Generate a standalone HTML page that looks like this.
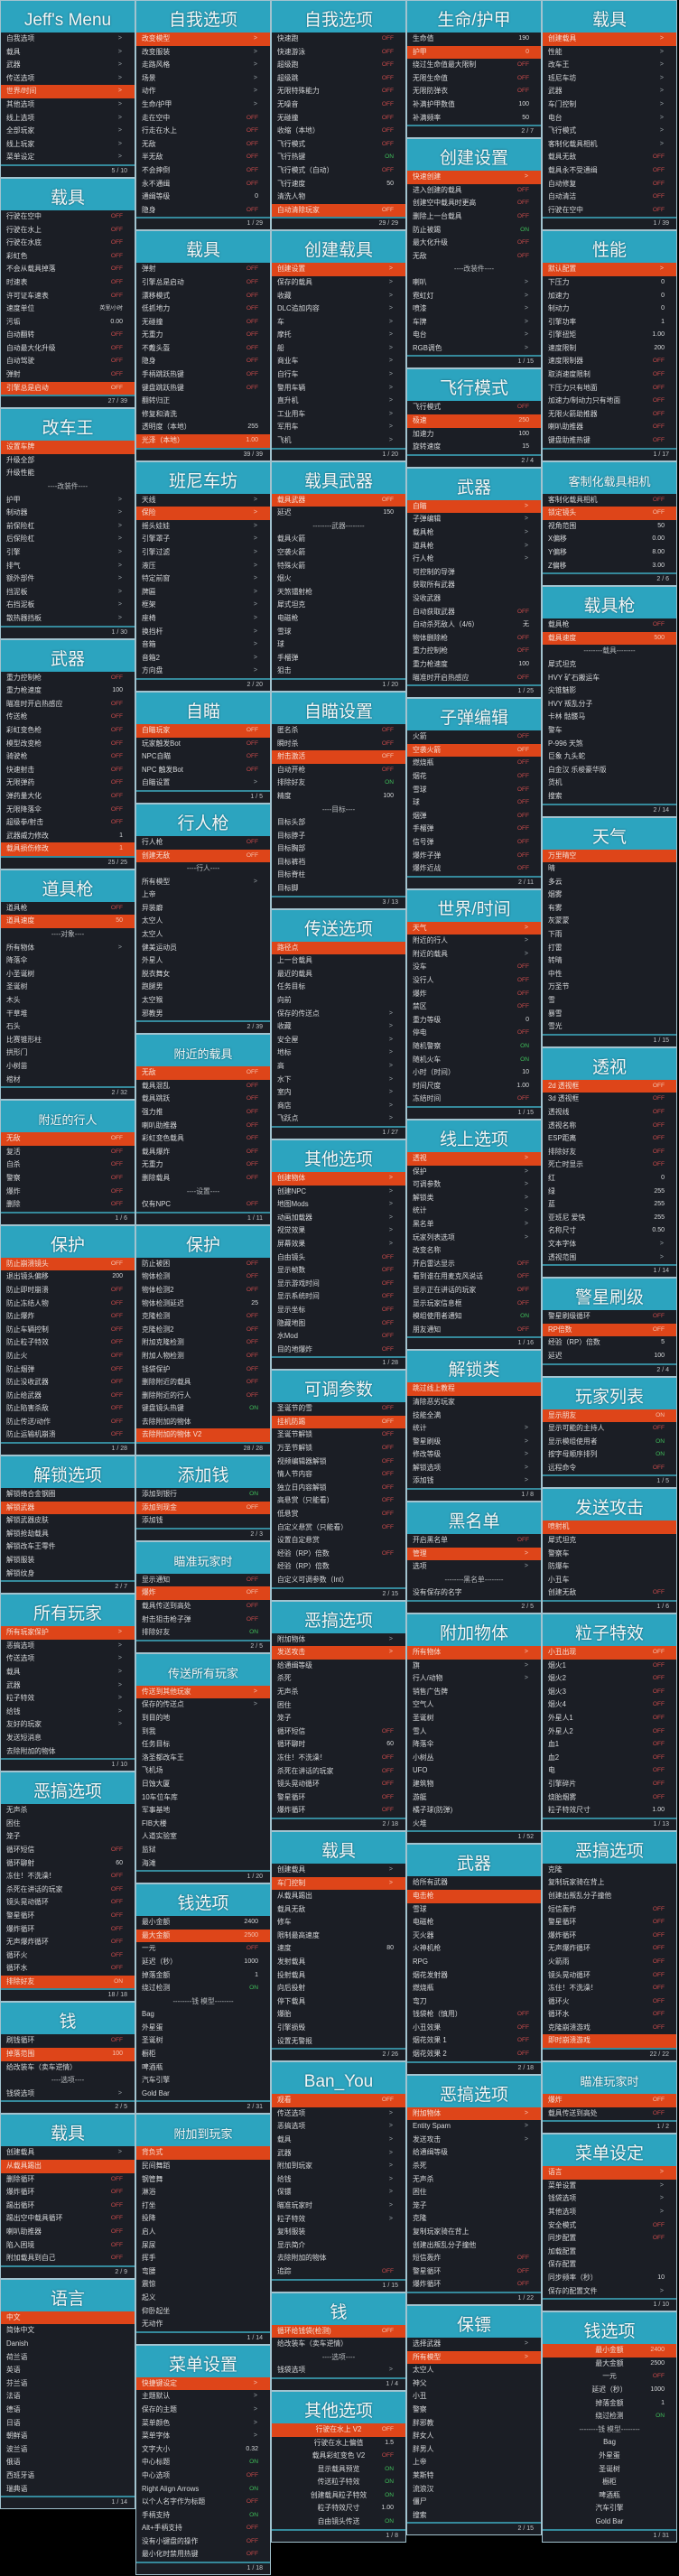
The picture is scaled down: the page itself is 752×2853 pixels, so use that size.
<!DOCTYPE html>
<html><head><meta charset="utf-8">
<style>
*{margin:0;padding:0;box-sizing:border-box}
html,body{width:752px;height:2853px;background:#000;overflow:hidden}
body{position:relative;font-family:"Liberation Sans","Noto Sans CJK SC",sans-serif}
.col{position:absolute;top:0;width:150px}
.p{border:1px solid #a2c3cf;background:#1b1e25}
.h{height:35px;background:#2ca4bf;color:#f2f6f7;font-size:19px;line-height:26px;display:flex;justify-content:center;align-items:flex-end;white-space:nowrap;text-shadow:0 0 2px rgba(0,40,50,.6)}
.h.sm{font-size:13px}
p{position:relative;height:14.6px;line-height:14.6px;font-size:7.8px;color:#d6d8da;padding-left:6px;white-space:nowrap;overflow:hidden}
p b{position:absolute;right:13px;top:0;font-weight:normal;font-size:7px;color:#d6d8da}
p b.f{color:#c94a4a;font-size:6.6px}
p b.n{color:#3fbf5a;font-size:6.6px}
p b.a{right:14px;color:#9aa3a8}
p.s{background:#de4519;color:#f6e0d6}
p.s b{color:#f5c3b0}
p.m{text-align:center;padding:0;color:#b8bcbf}
p.c{text-align:center;padding:0}
.ft{height:14px;border-top:2px solid #35899b;font-size:7px;line-height:12px;text-align:right;padding-right:8px;color:#bfc3c6}
</style></head><body>

<!-- COLUMN 1 -->
<div class="col" style="left:0">
<div class="p"><div class="h">Jeff's Menu</div>
<p>自我选项<b class="a">&gt;</b></p><p>载具<b class="a">&gt;</b></p><p>武器<b class="a">&gt;</b></p><p>传送选项<b class="a">&gt;</b></p><p class="s">世界/时间<b class="a">&gt;</b></p><p>其他选项<b class="a">&gt;</b></p><p>线上选项<b class="a">&gt;</b></p><p>全部玩家<b class="a">&gt;</b></p><p>线上玩家<b class="a">&gt;</b></p><p>菜单设定<b class="a">&gt;</b></p>
<div class="ft">5 / 10</div></div>

<div class="p"><div class="h">载具</div>
<p>行驶在空中<b class="f">OFF</b></p><p>行驶在水上<b class="f">OFF</b></p><p>行驶在水底<b class="f">OFF</b></p><p>彩虹色<b class="f">OFF</b></p><p>不会从载具掉落<b class="f">OFF</b></p><p>时速表<b class="f">OFF</b></p><p>许可证车速表<b class="f">OFF</b></p><p>速度单位<b style="font-size:6px">英里/小时</b></p><p>污垢<b>0.00</b></p><p>自动翻转<b class="f">OFF</b></p><p>自动最大化升级<b class="f">OFF</b></p><p>自动驾驶<b class="f">OFF</b></p><p>弹射<b class="f">OFF</b></p><p class="s">引擎总是启动<b class="f">OFF</b></p>
<div class="ft">27 / 39</div></div>

<div class="p"><div class="h">改车王</div>
<p class="s">设置车牌</p><p>升级全部</p><p>升级性能</p><p class="m">----改装件----</p><p>护甲<b class="a">&gt;</b></p><p>制动器<b class="a">&gt;</b></p><p>前保险杠<b class="a">&gt;</b></p><p>后保险杠<b class="a">&gt;</b></p><p>引擎<b class="a">&gt;</b></p><p>排气<b class="a">&gt;</b></p><p>额外部件<b class="a">&gt;</b></p><p>挡泥板<b class="a">&gt;</b></p><p>右挡泥板<b class="a">&gt;</b></p><p>散热器挡板<b class="a">&gt;</b></p>
<div class="ft">1 / 30</div></div>

<div class="p"><div class="h">武器</div>
<p>重力控制枪<b class="f">OFF</b></p><p>重力枪速度<b>100</b></p><p>瞄准时开启热感应<b class="f">OFF</b></p><p>传送枪<b class="f">OFF</b></p><p>彩虹变色枪<b class="f">OFF</b></p><p>模型改变枪<b class="f">OFF</b></p><p>骑驶枪<b class="f">OFF</b></p><p>快速射击<b class="f">OFF</b></p><p>无限弹药<b class="f">OFF</b></p><p>弹药量大化<b class="f">OFF</b></p><p>无限降落伞<b class="f">OFF</b></p><p>超级拳/射击<b class="f">OFF</b></p><p>武器威力修改<b>1</b></p><p class="s">载具损伤修改<b>1</b></p>
<div class="ft">25 / 25</div></div>

<div class="p"><div class="h">道具枪</div>
<p>道具枪<b class="f">OFF</b></p><p class="s">道具速度<b>50</b></p><p class="m">----对象----</p><p>所有物体<b class="a">&gt;</b></p><p>降落伞</p><p>小圣诞树</p><p>圣诞树</p><p>木头</p><p>干草堆</p><p>石头</p><p>比赛锥形柱</p><p>拱形门</p><p>小树苗</p><p>棺材</p>
<div class="ft">2 / 32</div></div>

<div class="p"><div class="h sm">附近的行人</div>
<p class="s">无敌<b class="f">OFF</b></p><p>复活<b class="f">OFF</b></p><p>自杀<b class="f">OFF</b></p><p>警察<b class="f">OFF</b></p><p>爆炸<b class="f">OFF</b></p><p>删除<b class="f">OFF</b></p>
<div class="ft">1 / 6</div></div>

<div class="p"><div class="h">保护</div>
<p class="s">防止崩溃镜头<b class="f">OFF</b></p><p>退出镜头偏移<b>200</b></p><p>防止即时崩溃<b class="f">OFF</b></p><p>防止冻结人物<b class="f">OFF</b></p><p>防止爆炸<b class="f">OFF</b></p><p>防止车辆控制<b class="f">OFF</b></p><p>防止粒子特效<b class="f">OFF</b></p><p>防止火<b class="f">OFF</b></p><p>防止烟弹<b class="f">OFF</b></p><p>防止没收武器<b class="f">OFF</b></p><p>防止给武器<b class="f">OFF</b></p><p>防止陷害杀敌<b class="f">OFF</b></p><p>防止传送/动作<b class="f">OFF</b></p><p>防止运输机崩溃<b class="f">OFF</b></p>
<div class="ft">1 / 28</div></div>

<div class="p"><div class="h">解锁选项</div>
<p>解锁络合金钢圈</p><p class="s">解锁武器</p><p>解锁武器皮肤</p><p>解锁抢劫载具</p><p>解锁改车王零件</p><p>解锁服装</p><p>解锁纹身</p>
<div class="ft">2 / 7</div></div>

<div class="p"><div class="h">所有玩家</div>
<p class="s">所有玩家保护<b class="a">&gt;</b></p><p>恶搞选项<b class="a">&gt;</b></p><p>传送选项<b class="a">&gt;</b></p><p>载具<b class="a">&gt;</b></p><p>武器<b class="a">&gt;</b></p><p>粒子特效<b class="a">&gt;</b></p><p>给钱<b class="a">&gt;</b></p><p>友好的玩家<b class="a">&gt;</b></p><p>发送短消息</p><p>去除附加的物体</p>
<div class="ft">1 / 10</div></div>

<div class="p"><div class="h">恶搞选项</div>
<p>无声杀</p><p>困住</p><p>笼子</p><p>循环短信<b class="f">OFF</b></p><p>循环聊射<b>60</b></p><p>冻住！不洗澡！<b class="f">OFF</b></p><p>杀死在讲话的玩家<b class="f">OFF</b></p><p>镜头晃动循环<b class="f">OFF</b></p><p>警星循环<b class="f">OFF</b></p><p>爆炸循环<b class="f">OFF</b></p><p>无声爆炸循环<b class="f">OFF</b></p><p>循环火<b class="f">OFF</b></p><p>循环水<b class="f">OFF</b></p><p class="s">排除好友<b class="n">ON</b></p>
<div class="ft">18 / 18</div></div>

<div class="p"><div class="h">钱</div>
<p>刷钱循环<b class="f">OFF</b></p><p class="s">掉落范围<b>100</b></p><p>给改装车（卖车逆情）</p><p class="m">----选项----</p><p>钱袋选项<b class="a">&gt;</b></p>
<div class="ft">2 / 5</div></div>

<div class="p"><div class="h">载具</div>
<p>创建载具<b class="a">&gt;</b></p><p class="s">从载具踢出</p><p>删除循环<b class="f">OFF</b></p><p>爆炸循环<b class="f">OFF</b></p><p>踢出循环<b class="f">OFF</b></p><p>踢出空中载具循环<b class="f">OFF</b></p><p>喇叭助推器<b class="f">OFF</b></p><p>陷入困境<b class="f">OFF</b></p><p>附加载具到自己<b class="f">OFF</b></p>
<div class="ft">2 / 9</div></div>

<div class="p"><div class="h">语言</div>
<p class="s">中文</p><p>简体中文</p><p>Danish</p><p>荷兰语</p><p>英语</p><p>芬兰语</p><p>法语</p><p>德语</p><p>日语</p><p>朝鲜语</p><p>波兰语</p><p>俄语</p><p>西班牙语</p><p>瑞典语</p>
<div class="ft">1 / 14</div></div>
</div>

<!-- COLUMN 2 -->
<div class="col" style="left:150px">
<div class="p"><div class="h">自我选项</div>
<p class="s">改变模型<b class="a">&gt;</b></p><p>改变服装<b class="a">&gt;</b></p><p>走路风格<b class="a">&gt;</b></p><p>场景<b class="a">&gt;</b></p><p>动作<b class="a">&gt;</b></p><p>生命/护甲<b class="a">&gt;</b></p><p>走在空中<b class="f">OFF</b></p><p>行走在水上<b class="f">OFF</b></p><p>无敌<b class="f">OFF</b></p><p>半无敌<b class="f">OFF</b></p><p>不会摔倒<b class="f">OFF</b></p><p>永不通缉<b class="f">OFF</b></p><p>通缉等级<b>0</b></p><p>隐身<b class="f">OFF</b></p>
<div class="ft">1 / 29</div></div>

<div class="p"><div class="h">载具</div>
<p>弹射<b class="f">OFF</b></p><p>引擎总是启动<b class="f">OFF</b></p><p>漂移模式<b class="f">OFF</b></p><p>低抓地力<b class="f">OFF</b></p><p>无碰撞<b class="f">OFF</b></p><p>无重力<b class="f">OFF</b></p><p>不戴头盔<b class="f">OFF</b></p><p>隐身<b class="f">OFF</b></p><p>手柄跳跃热键<b class="f">OFF</b></p><p>键盘跳跃热键<b class="f">OFF</b></p><p>翻转归正</p><p>修复和清洗</p><p>透明度（本地）<b>255</b></p><p class="s">光泽（本地）<b>1.00</b></p>
<div class="ft">39 / 39</div></div>

<div class="p"><div class="h">班尼车坊</div>
<p>天线<b class="a">&gt;</b></p><p class="s">保险<b class="a">&gt;</b></p><p>摇头娃娃<b class="a">&gt;</b></p><p>引擎罩子<b class="a">&gt;</b></p><p>引擎过滤<b class="a">&gt;</b></p><p>液压<b class="a">&gt;</b></p><p>特定前窗<b class="a">&gt;</b></p><p>牌匾<b class="a">&gt;</b></p><p>框架<b class="a">&gt;</b></p><p>座椅<b class="a">&gt;</b></p><p>换挡杆<b class="a">&gt;</b></p><p>音箱<b class="a">&gt;</b></p><p>音箱2<b class="a">&gt;</b></p><p>方向盘<b class="a">&gt;</b></p>
<div class="ft">2 / 20</div></div>

<div class="p"><div class="h">自瞄</div>
<p class="s">自瞄玩家<b class="f">OFF</b></p><p>玩家触发Bot<b class="f">OFF</b></p><p>NPC自瞄<b class="f">OFF</b></p><p>NPC 触发Bot<b class="f">OFF</b></p><p>自瞄设置<b class="a">&gt;</b></p>
<div class="ft">1 / 5</div></div>

<div class="p"><div class="h">行人枪</div>
<p>行人枪<b class="f">OFF</b></p><p class="s">创建无敌<b class="f">OFF</b></p><p class="m">----行人----</p><p>所有模型<b class="a">&gt;</b></p><p>上帝</p><p>异装癖</p><p>太空人</p><p>太空人</p><p>健美运动员</p><p>外星人</p><p>脱衣舞女</p><p>跑腿男</p><p>太空猴</p><p>邪教男</p>
<div class="ft">2 / 39</div></div>

<div class="p"><div class="h sm">附近的载具</div>
<p class="s">无敌<b class="f">OFF</b></p><p>载具混乱<b class="f">OFF</b></p><p>载具跳跃<b class="f">OFF</b></p><p>强力推<b class="f">OFF</b></p><p>喇叭助推器<b class="f">OFF</b></p><p>彩虹变色载具<b class="f">OFF</b></p><p>载具爆炸<b class="f">OFF</b></p><p>无重力<b class="f">OFF</b></p><p>删除载具<b class="f">OFF</b></p><p class="m">----设置----</p><p>仅有NPC<b class="f">OFF</b></p>
<div class="ft">1 / 11</div></div>

<div class="p"><div class="h">保护</div>
<p>防止被困<b class="f">OFF</b></p><p>物体检测<b class="f">OFF</b></p><p>物体检测2<b class="f">OFF</b></p><p>物体检测延迟<b>25</b></p><p>克隆检测<b class="f">OFF</b></p><p>克隆检测2<b class="f">OFF</b></p><p>附加克隆检测<b class="f">OFF</b></p><p>附加人物检测<b class="f">OFF</b></p><p>钱袋保护<b class="f">OFF</b></p><p>删除附近的载具<b class="f">OFF</b></p><p>删除附近的行人<b class="f">OFF</b></p><p>键盘镜头热键<b class="n">ON</b></p><p>去除附加的物体</p><p class="s">去除附加的物体 V2</p>
<div class="ft">28 / 28</div></div>

<div class="p"><div class="h">添加钱</div>
<p>添加到银行<b class="n">ON</b></p><p class="s">添加到现金<b class="f">OFF</b></p><p>添加钱</p>
<div class="ft">2 / 3</div></div>

<div class="p"><div class="h sm">瞄准玩家时</div>
<p>显示通知<b class="f">OFF</b></p><p class="s">爆炸<b class="f">OFF</b></p><p>载具传送到高处<b class="f">OFF</b></p><p>射击狙击枪子弹<b class="f">OFF</b></p><p>排除好友<b class="n">ON</b></p>
<div class="ft">2 / 5</div></div>

<div class="p"><div class="h sm">传送所有玩家</div>
<p class="s">传送到其他玩家<b class="a">&gt;</b></p><p>保存的传送点<b class="a">&gt;</b></p><p>到目的地</p><p>到我</p><p>任务目标</p><p>洛圣都改车王</p><p>飞机场</p><p>日蚀大厦</p><p>10车位车库</p><p>军事基地</p><p>FIB大楼</p><p>人道实验室</p><p>监狱</p><p>海滩</p>
<div class="ft">1 / 20</div></div>

<div class="p"><div class="h">钱选项</div>
<p>最小金额<b>2400</b></p><p class="s">最大金额<b>2500</b></p><p>一元<b class="f">OFF</b></p><p>延迟（秒）<b>1000</b></p><p>掉落金额<b>1</b></p><p>绕过检测<b class="n">ON</b></p><p class="m">--------钱 模型--------</p><p>Bag</p><p>外星蛋</p><p>圣诞树</p><p>橱柜</p><p>啤酒瓶</p><p>汽车引擎</p><p>Gold Bar</p>
<div class="ft">2 / 31</div></div>

<div class="p"><div class="h sm">附加到玩家</div>
<p class="s">背负式</p><p>民间舞蹈</p><p>钢管舞</p><p>淋浴</p><p>打坐</p><p>投降</p><p>启人</p><p>尿尿</p><p>挥手</p><p>弯腰</p><p>震惊</p><p>起义</p><p>仰卧起坐</p><p>无动作</p>
<div class="ft">1 / 14</div></div>

<div class="p"><div class="h">菜单设置</div>
<p class="s">快捷键设定<b class="a">&gt;</b></p><p>主题默认<b class="a">&gt;</b></p><p>保存的主题<b class="a">&gt;</b></p><p>菜单颜色<b class="a">&gt;</b></p><p>菜单字体<b class="a">&gt;</b></p><p>文字大小<b>0.32</b></p><p>中心标题<b class="n">ON</b></p><p>中心选项<b class="f">OFF</b></p><p>Right Align Arrows<b class="n">ON</b></p><p>以个人名字作为标题<b class="f">OFF</b></p><p>手柄支持<b class="n">ON</b></p><p>Alt+手柄支持<b class="f">OFF</b></p><p>没有小键盘的操作<b class="f">OFF</b></p><p>最小化时禁用热键<b class="f">OFF</b></p>
<div class="ft">1 / 18</div></div>
</div>

<!-- COLUMN 3 -->
<div class="col" style="left:300px">
<div class="p"><div class="h">自我选项</div>
<p>快速跑<b class="f">OFF</b></p><p>快速游泳<b class="f">OFF</b></p><p>超级跑<b class="f">OFF</b></p><p>超级跳<b class="f">OFF</b></p><p>无限特殊能力<b class="f">OFF</b></p><p>无噪音<b class="f">OFF</b></p><p>无碰撞<b class="f">OFF</b></p><p>收缩（本地）<b class="f">OFF</b></p><p>飞行模式<b class="f">OFF</b></p><p>飞行热键<b class="n">ON</b></p><p>飞行模式（自动）<b class="f">OFF</b></p><p>飞行速度<b>50</b></p><p>清洗人物</p><p class="s">自动清除玩家<b class="f">OFF</b></p>
<div class="ft">29 / 29</div></div>

<div class="p"><div class="h">创建载具</div>
<p class="s">创建设置<b class="a">&gt;</b></p><p>保存的载具<b class="a">&gt;</b></p><p>收藏<b class="a">&gt;</b></p><p>DLC追加内容<b class="a">&gt;</b></p><p>车<b class="a">&gt;</b></p><p>摩托<b class="a">&gt;</b></p><p>船<b class="a">&gt;</b></p><p>商业车<b class="a">&gt;</b></p><p>自行车<b class="a">&gt;</b></p><p>警用车辆<b class="a">&gt;</b></p><p>直升机<b class="a">&gt;</b></p><p>工业用车<b class="a">&gt;</b></p><p>军用车<b class="a">&gt;</b></p><p>飞机<b class="a">&gt;</b></p>
<div class="ft">1 / 20</div></div>

<div class="p"><div class="h">载具武器</div>
<p class="s">载具武器<b class="f">OFF</b></p><p>延迟<b>150</b></p><p class="m">--------武器--------</p><p>载具火箭</p><p>空袭火箭</p><p>特殊火箭</p><p>烟火</p><p>天煞镭射枪</p><p>犀式坦克</p><p>电磁枪</p><p>雪球</p><p>球</p><p>手榴弹</p><p>狙击</p>
<div class="ft">1 / 20</div></div>

<div class="p"><div class="h">自瞄设置</div>
<p>匿名杀<b class="f">OFF</b></p><p>瞬时杀<b class="f">OFF</b></p><p class="s">射击激活<b class="f">OFF</b></p><p>自动开枪<b class="f">OFF</b></p><p>排除好友<b class="n">ON</b></p><p>精度<b>100</b></p><p class="m">----目标----</p><p>目标头部</p><p>目标脖子</p><p>目标胸部</p><p>目标裤裆</p><p>目标脊柱</p><p>目标脚</p>
<div class="ft">3 / 13</div></div>

<div class="p"><div class="h">传送选项</div>
<p class="s">路径点</p><p>上一台载具</p><p>最近的载具</p><p>任务目标</p><p>向前</p><p>保存的传送点<b class="a">&gt;</b></p><p>收藏<b class="a">&gt;</b></p><p>安全屋<b class="a">&gt;</b></p><p>地标<b class="a">&gt;</b></p><p>高<b class="a">&gt;</b></p><p>水下<b class="a">&gt;</b></p><p>室内<b class="a">&gt;</b></p><p>商店<b class="a">&gt;</b></p><p>飞跃点<b class="a">&gt;</b></p>
<div class="ft">1 / 27</div></div>

<div class="p"><div class="h">其他选项</div>
<p class="s">创建物体<b class="a">&gt;</b></p><p>创建NPC<b class="a">&gt;</b></p><p>地图Mods<b class="a">&gt;</b></p><p>动画加载器<b class="a">&gt;</b></p><p>视觉效果<b class="a">&gt;</b></p><p>屏幕效果<b class="a">&gt;</b></p><p>自由镜头<b class="f">OFF</b></p><p>显示帧数<b class="f">OFF</b></p><p>显示游戏时间<b class="f">OFF</b></p><p>显示系统时间<b class="f">OFF</b></p><p>显示坐标<b class="f">OFF</b></p><p>隐藏地图<b class="f">OFF</b></p><p>水Mod<b class="f">OFF</b></p><p>目的地爆炸<b class="f">OFF</b></p>
<div class="ft">1 / 28</div></div>

<div class="p"><div class="h">可调参数</div>
<p>圣诞节的雪<b class="f">OFF</b></p><p class="s">挂机防踢<b class="f">OFF</b></p><p>圣诞节解锁<b class="f">OFF</b></p><p>万圣节解锁<b class="f">OFF</b></p><p>视频编辑器解锁<b class="f">OFF</b></p><p>情人节内容<b class="f">OFF</b></p><p>独立日内容解锁<b class="f">OFF</b></p><p>高悬赏（只能看）<b class="f">OFF</b></p><p>低悬赏<b class="f">OFF</b></p><p>自定义悬赏（只能看）<b class="f">OFF</b></p><p>设置自定悬赏</p><p>经验（RP）倍数<b class="f">OFF</b></p><p>经验（RP）倍数</p><p>自定义可调参数（Int）</p>
<div class="ft">2 / 15</div></div>

<div class="p"><div class="h">恶搞选项</div>
<p>附加物体<b class="a">&gt;</b></p><p class="s">发送攻击<b class="a">&gt;</b></p><p>给通缉等级</p><p>杀死</p><p>无声杀</p><p>困住</p><p>笼子</p><p>循环短信<b class="f">OFF</b></p><p>循环聊时<b>60</b></p><p>冻住！不洗澡！<b class="f">OFF</b></p><p>杀死在讲话的玩家<b class="f">OFF</b></p><p>镜头晃动循环<b class="f">OFF</b></p><p>警星循环<b class="f">OFF</b></p><p>爆炸循环<b class="f">OFF</b></p>
<div class="ft">2 / 18</div></div>

<div class="p"><div class="h">载具</div>
<p>创建载具<b class="a">&gt;</b></p><p class="s">车门控制<b class="a">&gt;</b></p><p>从载具踢出</p><p>载具无敌</p><p>修车</p><p>限制最高速度</p><p>速度<b>80</b></p><p>发射载具</p><p>投射载具</p><p>向后投射</p><p>停下载具</p><p>爆胎</p><p>引擎损毁</p><p>设置无警报</p>
<div class="ft">2 / 26</div></div>

<div class="p"><div class="h">Ban_You</div>
<p class="s">观看<b class="f">OFF</b></p><p>传送选项<b class="a">&gt;</b></p><p>恶搞选项<b class="a">&gt;</b></p><p>载具<b class="a">&gt;</b></p><p>武器<b class="a">&gt;</b></p><p>附加到玩家<b class="a">&gt;</b></p><p>给钱<b class="a">&gt;</b></p><p>保镖<b class="a">&gt;</b></p><p>瞄准玩家时<b class="a">&gt;</b></p><p>粒子特效<b class="a">&gt;</b></p><p>复制服装</p><p>显示简介</p><p>去除附加的物体</p><p>追踪<b class="f">OFF</b></p>
<div class="ft">1 / 15</div></div>

<div class="p"><div class="h">钱</div>
<p class="s">循环给钱袋(检测)<b class="f">OFF</b></p><p>给改装车（卖车逆情）</p><p class="m">----选项----</p><p>钱袋选项<b class="a">&gt;</b></p>
<div class="ft">1 / 4</div></div>

<div class="p"><div class="h">其他选项</div>
<p class="s c">行驶在水上 V2<b class="f">OFF</b></p><p class="c">行驶在水上偏值<b>1.5</b></p><p class="c">载具彩虹变色 V2<b class="f">OFF</b></p><p class="c">显示载具预览<b class="n">ON</b></p><p class="c">传送粒子特效<b class="n">ON</b></p><p class="c">创建载具粒子特效<b class="n">ON</b></p><p class="c">粒子特效尺寸<b>1.00</b></p><p class="c">自由镜头传送<b class="n">ON</b></p>
<div class="ft">1 / 8</div></div>
</div>

<!-- COLUMN 4 -->
<div class="col" style="left:450px">
<div class="p"><div class="h">生命/护甲</div>
<p>生命值<b>190</b></p><p class="s">护甲<b>0</b></p><p>绕过生命值最大限制<b class="f">OFF</b></p><p>无限生命值<b class="f">OFF</b></p><p>无限防弹衣<b class="f">OFF</b></p><p>补满护甲数值<b>100</b></p><p>补满频率<b>50</b></p>
<div class="ft">2 / 7</div></div>

<div class="p"><div class="h">创建设置</div>
<p class="s">快速创建<b class="a">&gt;</b></p><p>进入创建的载具<b class="f">OFF</b></p><p>创建空中载具时更高<b class="f">OFF</b></p><p>删除上一台载具<b class="f">OFF</b></p><p>防止被踢<b class="n">ON</b></p><p>最大化升级<b class="f">OFF</b></p><p>无敌<b class="f">OFF</b></p><p class="m">----改装件----</p><p>喇叭<b class="a">&gt;</b></p><p>霓虹灯<b class="a">&gt;</b></p><p>喷漆<b class="a">&gt;</b></p><p>车牌<b class="a">&gt;</b></p><p>电台<b class="a">&gt;</b></p><p>RGB调色<b class="a">&gt;</b></p>
<div class="ft">1 / 15</div></div>

<div class="p"><div class="h">飞行模式</div>
<p>飞行模式<b class="f">OFF</b></p><p class="s">极速<b>250</b></p><p>加速力<b>100</b></p><p>旋转速度<b>15</b></p>
<div class="ft">2 / 4</div></div>

<div class="p"><div class="h">武器</div>
<p class="s">自瞄<b class="a">&gt;</b></p><p>子弹编辑<b class="a">&gt;</b></p><p>载具枪<b class="a">&gt;</b></p><p>道具枪<b class="a">&gt;</b></p><p>行人枪<b class="a">&gt;</b></p><p>可控制的导弹</p><p>获取所有武器</p><p>没收武器</p><p>自动获取武器<b class="f">OFF</b></p><p>自动杀死敌人（4/6）<b>无</b></p><p>物体删除枪<b class="f">OFF</b></p><p>重力控制枪<b class="f">OFF</b></p><p>重力枪速度<b>100</b></p><p>瞄准时开启热感应<b class="f">OFF</b></p>
<div class="ft">1 / 25</div></div>

<div class="p"><div class="h">子弹编辑</div>
<p>火箭<b class="f">OFF</b></p><p class="s">空袭火箭<b class="f">OFF</b></p><p>燃烧瓶<b class="f">OFF</b></p><p>烟花<b class="f">OFF</b></p><p>雪球<b class="f">OFF</b></p><p>球<b class="f">OFF</b></p><p>烟弹<b class="f">OFF</b></p><p>手榴弹<b class="f">OFF</b></p><p>信号弹<b class="f">OFF</b></p><p>爆炸子弹<b class="f">OFF</b></p><p>爆炸近战<b class="f">OFF</b></p>
<div class="ft">2 / 11</div></div>

<div class="p"><div class="h">世界/时间</div>
<p class="s">天气<b class="a">&gt;</b></p><p>附近的行人<b class="a">&gt;</b></p><p>附近的载具<b class="a">&gt;</b></p><p>没车<b class="f">OFF</b></p><p>没行人<b class="f">OFF</b></p><p>爆炸<b class="f">OFF</b></p><p>禁区<b class="f">OFF</b></p><p>重力等级<b>0</b></p><p>停电<b class="f">OFF</b></p><p>随机警察<b class="n">ON</b></p><p>随机火车<b class="n">ON</b></p><p>小时（时间）<b>10</b></p><p>时间尺度<b>1.00</b></p><p>冻结时间<b class="f">OFF</b></p>
<div class="ft">1 / 15</div></div>

<div class="p"><div class="h">线上选项</div>
<p class="s">透视<b class="a">&gt;</b></p><p>保护<b class="a">&gt;</b></p><p>可调参数<b class="a">&gt;</b></p><p>解锁类<b class="a">&gt;</b></p><p>统计<b class="a">&gt;</b></p><p>黑名单<b class="a">&gt;</b></p><p>玩家列表选项<b class="a">&gt;</b></p><p>改变名称</p><p>开启雷达显示<b class="f">OFF</b></p><p>看到谁在用麦克风说话<b class="f">OFF</b></p><p>显示正在讲话的玩家<b class="f">OFF</b></p><p>显示玩家信息框<b class="f">OFF</b></p><p>模组使用者通知<b class="n">ON</b></p><p>朋友通知<b class="f">OFF</b></p>
<div class="ft">1 / 16</div></div>

<div class="p"><div class="h">解锁类</div>
<p class="s">跳过线上教程</p><p>清除恶劣玩家</p><p>技能全满</p><p>统计<b class="a">&gt;</b></p><p>警星刷级<b class="a">&gt;</b></p><p>修改等级<b class="a">&gt;</b></p><p>解锁选项<b class="a">&gt;</b></p><p>添加钱<b class="a">&gt;</b></p>
<div class="ft">1 / 8</div></div>

<div class="p"><div class="h">黑名单</div>
<p>开启黑名单<b class="f">OFF</b></p><p class="s">管理<b class="a">&gt;</b></p><p>选项<b class="a">&gt;</b></p><p class="m">--------黑名单--------</p><p>没有保存的名字</p>
<div class="ft">2 / 5</div></div>

<div class="p"><div class="h">附加物体</div>
<p class="s">所有物体<b class="a">&gt;</b></p><p>旗<b class="a">&gt;</b></p><p>行人/动物<b class="a">&gt;</b></p><p>销售广告牌</p><p>空气人</p><p>圣诞树</p><p>雪人</p><p>降落伞</p><p>小树丛</p><p>UFO</p><p>建筑物</p><p>游艇</p><p>橘子球(防弹)</p><p>火堆</p>
<div class="ft">1 / 52</div></div>

<div class="p"><div class="h">武器</div>
<p>给所有武器</p><p class="s">电击枪</p><p>雪球</p><p>电磁枪</p><p>灭火器</p><p>火神机枪</p><p>RPG</p><p>烟花发射器</p><p>燃烧瓶</p><p>弯刀</p><p>钱袋枪（慎用）<b class="f">OFF</b></p><p>小丑效果<b class="f">OFF</b></p><p>烟花效果 1<b class="f">OFF</b></p><p>烟花效果 2<b class="f">OFF</b></p>
<div class="ft">2 / 18</div></div>

<div class="p"><div class="h">恶搞选项</div>
<p class="s">附加物体<b class="a">&gt;</b></p><p>Entity Spam<b class="a">&gt;</b></p><p>发送攻击<b class="a">&gt;</b></p><p>给通缉等级</p><p>杀死</p><p>无声杀</p><p>困住</p><p>笼子</p><p>克隆</p><p>复制玩家骑在背上</p><p>创建出叛乱分子撞他</p><p>短信轰炸<b class="f">OFF</b></p><p>警星循环<b class="f">OFF</b></p><p>爆炸循环<b class="f">OFF</b></p>
<div class="ft">1 / 22</div></div>

<div class="p"><div class="h">保镖</div>
<p>选择武器<b class="a">&gt;</b></p><p class="s">所有模型<b class="a">&gt;</b></p><p>太空人</p><p>神父</p><p>小丑</p><p>警察</p><p>胖邪教</p><p>胖女人</p><p>胖男人</p><p>上帝</p><p>莱斯特</p><p>流浪汉</p><p>僵尸</p><p>搜索</p>
<div class="ft">2 / 15</div></div>
</div>

<!-- COLUMN 5 -->
<div class="col" style="left:600px">
<div class="p"><div class="h">载具</div>
<p class="s">创建载具<b class="a">&gt;</b></p><p>性能<b class="a">&gt;</b></p><p>改车王<b class="a">&gt;</b></p><p>班尼车坊<b class="a">&gt;</b></p><p>武器<b class="a">&gt;</b></p><p>车门控制<b class="a">&gt;</b></p><p>电台<b class="a">&gt;</b></p><p>飞行模式<b class="a">&gt;</b></p><p>客制化载具相机<b class="a">&gt;</b></p><p>载具无敌<b class="f">OFF</b></p><p>载具永不受通缉<b class="f">OFF</b></p><p>自动修复<b class="f">OFF</b></p><p>自动清洁<b class="f">OFF</b></p><p>行驶在空中<b class="f">OFF</b></p>
<div class="ft">1 / 39</div></div>

<div class="p"><div class="h">性能</div>
<p class="s">默认配置<b class="a">&gt;</b></p><p>下压力<b>0</b></p><p>加速力<b>0</b></p><p>制动力<b>0</b></p><p>引擎功率<b>1</b></p><p>引擎扭矩<b>1.00</b></p><p>速度限制<b>200</b></p><p>速度限制器<b class="f">OFF</b></p><p>取消速度限制<b class="f">OFF</b></p><p>下压力只有地面<b class="f">OFF</b></p><p>加速力/制动力只有地面<b class="f">OFF</b></p><p>无限火箭助推器<b class="f">OFF</b></p><p>喇叭助推器<b class="f">OFF</b></p><p>键盘助推热键<b class="f">OFF</b></p>
<div class="ft">1 / 17</div></div>

<div class="p"><div class="h sm">客制化载具相机</div>
<p>客制化载具相机<b class="f">OFF</b></p><p class="s">锁定镜头<b class="f">OFF</b></p><p>视角范围<b>50</b></p><p>X偏移<b>0.00</b></p><p>Y偏移<b>8.00</b></p><p>Z偏移<b>3.00</b></p>
<div class="ft">2 / 6</div></div>

<div class="p"><div class="h">载具枪</div>
<p>载具枪<b class="f">OFF</b></p><p class="s">载具速度<b>500</b></p><p class="m">--------载具--------</p><p>犀式坦克</p><p>HVY 矿石搬运车</p><p>尖锥魅影</p><p>HVY 叛乱分子</p><p>卡林 骷髅马</p><p>警车</p><p>P-996 天煞</p><p>巨象 九头蛇</p><p>白金汉 乐梭豪华版</p><p>货机</p><p>搜索</p>
<div class="ft">2 / 14</div></div>

<div class="p"><div class="h">天气</div>
<p class="s">万里晴空</p><p>晴</p><p>多云</p><p>烟雾</p><p>有雾</p><p>灰蒙蒙</p><p>下雨</p><p>打雷</p><p>转晴</p><p>中性</p><p>万圣节</p><p>雪</p><p>暴雪</p><p>雪光</p>
<div class="ft">1 / 15</div></div>

<div class="p"><div class="h">透视</div>
<p class="s">2d 透视框<b class="f">OFF</b></p><p>3d 透视框<b class="f">OFF</b></p><p>透视线<b class="f">OFF</b></p><p>透视名称<b class="f">OFF</b></p><p>ESP距离<b class="f">OFF</b></p><p>排除好友<b class="f">OFF</b></p><p>死亡时显示<b class="f">OFF</b></p><p>红<b>0</b></p><p>绿<b>255</b></p><p>蓝<b>255</b></p><p>亚班尼 爱快<b>255</b></p><p>名称尺寸<b>0.50</b></p><p>文本字体<b class="a">&gt;</b></p><p>透视范围<b class="a">&gt;</b></p>
<div class="ft">1 / 14</div></div>

<div class="p"><div class="h">警星刷级</div>
<p>警星刷级循环<b class="f">OFF</b></p><p class="s">RP倍数<b class="f">OFF</b></p><p>经验（RP）倍数<b>5</b></p><p>延迟<b>100</b></p>
<div class="ft">2 / 4</div></div>

<div class="p"><div class="h">玩家列表</div>
<p class="s">显示朋友<b class="n">ON</b></p><p>显示可能的主持人<b class="f">OFF</b></p><p>显示模组使用者<b class="n">ON</b></p><p>按字母顺序排列<b class="n">ON</b></p><p>远程命令<b class="f">OFF</b></p>
<div class="ft">1 / 5</div></div>

<div class="p"><div class="h">发送攻击</div>
<p class="s">喷射机</p><p>犀式坦克</p><p>警察车</p><p>防爆车</p><p>小丑车</p><p>创建无敌<b class="f">OFF</b></p>
<div class="ft">1 / 6</div></div>

<div class="p"><div class="h">粒子特效</div>
<p class="s">小丑出现<b class="f">OFF</b></p><p>烟火1<b class="f">OFF</b></p><p>烟火2<b class="f">OFF</b></p><p>烟火3<b class="f">OFF</b></p><p>烟火4<b class="f">OFF</b></p><p>外星人1<b class="f">OFF</b></p><p>外星人2<b class="f">OFF</b></p><p>血1<b class="f">OFF</b></p><p>血2<b class="f">OFF</b></p><p>电<b class="f">OFF</b></p><p>引擎碎片<b class="f">OFF</b></p><p>烧胎烟雾<b class="f">OFF</b></p><p>粒子特效尺寸<b>1.00</b></p>
<div class="ft">1 / 13</div></div>

<div class="p"><div class="h">恶搞选项</div>
<p>克隆</p><p>复制玩家骑在背上</p><p>创建出叛乱分子撞他</p><p>短信轰炸<b class="f">OFF</b></p><p>警星循环<b class="f">OFF</b></p><p>爆炸循环<b class="f">OFF</b></p><p>无声爆炸循环<b class="f">OFF</b></p><p>火箭雨<b class="f">OFF</b></p><p>镜头晃动循环<b class="f">OFF</b></p><p>冻住！不洗澡！<b class="f">OFF</b></p><p>循环火<b class="f">OFF</b></p><p>循环水<b class="f">OFF</b></p><p>克隆崩溃游戏<b class="f">OFF</b></p><p class="s">即时崩溃游戏</p>
<div class="ft">22 / 22</div></div>

<div class="p"><div class="h sm">瞄准玩家时</div>
<p class="s">爆炸<b class="f">OFF</b></p><p>载具传送到高处<b class="f">OFF</b></p>
<div class="ft">1 / 2</div></div>

<div class="p"><div class="h">菜单设定</div>
<p class="s">语言<b class="a">&gt;</b></p><p>菜单设置<b class="a">&gt;</b></p><p>钱袋选项<b class="a">&gt;</b></p><p>其他选项<b class="a">&gt;</b></p><p>安全模式<b class="f">OFF</b></p><p>同步配置<b class="f">OFF</b></p><p>加载配置</p><p>保存配置</p><p>同步频率（秒）<b>10</b></p><p>保存的配置文件<b class="a">&gt;</b></p>
<div class="ft">1 / 10</div></div>

<div class="p"><div class="h">钱选项</div>
<p class="s c">最小金额<b>2400</b></p><p class="c">最大金额<b>2500</b></p><p class="c">一元<b class="f">OFF</b></p><p class="c">延迟（秒）<b>1000</b></p><p class="c">掉落金额<b>1</b></p><p class="c">绕过检测<b class="n">ON</b></p><p class="m">--------钱 模型--------</p><p class="c">Bag</p><p class="c">外星蛋</p><p class="c">圣诞树</p><p class="c">橱柜</p><p class="c">啤酒瓶</p><p class="c">汽车引擎</p><p class="c">Gold Bar</p>
<div class="ft">1 / 31</div></div>
</div>

</body></html>
